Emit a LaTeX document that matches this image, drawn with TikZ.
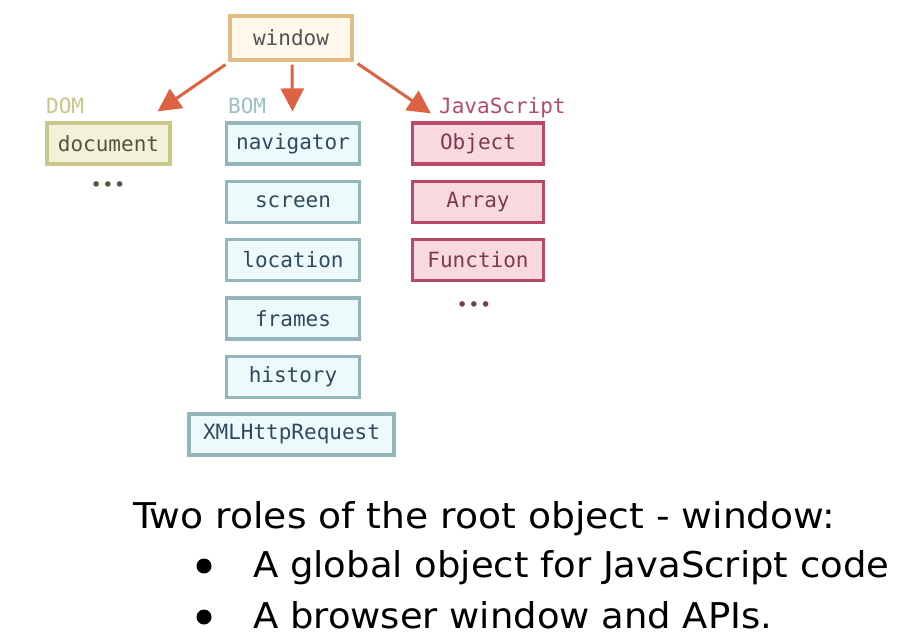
\documentclass[tikz,border=0pt]{standalone}
\usepackage{fontspec}
\usepackage{graphicx}
\usetikzlibrary{arrows.meta}
\setmainfont{DejaVu Sans}
\newfontfamily\monof{DejaVu Sans Mono}
\definecolor{winfill}{HTML}{FFF8EB}
\definecolor{windraw}{HTML}{E3BC85}
\definecolor{wintext}{HTML}{4F5358}
\definecolor{domfill}{HTML}{F3F1DA}
\definecolor{domdraw}{HTML}{CBC78A}
\definecolor{domlab}{HTML}{C9C58A}
\definecolor{domtext}{HTML}{55553F}
\definecolor{bomfill}{HTML}{EDFAFC}
\definecolor{bomdraw}{HTML}{94B6BA}
\definecolor{bomlab}{HTML}{9CC0C4}
\definecolor{bomtext}{HTML}{2E4A5C}
\definecolor{jsfill}{HTML}{F8D9DF}
\definecolor{jsdraw}{HTML}{B84A68}
\definecolor{jslab}{HTML}{B64A6B}
\definecolor{jstext}{HTML}{7B3A4F}
\definecolor{arrcol}{HTML}{DD6244}
\begin{document}
\begin{tikzpicture}[x=1pt,y=-1pt,
  box/.style={draw, line width=3.2pt, inner sep=0pt, minimum height=41pt,
    font=\monof\fontsize{21}{24}\selectfont},
  winbox/.style={box, fill=winfill, draw=windraw, text=wintext, minimum width=122pt, minimum height=44pt},
  dombox/.style={box, fill=domfill, draw=domdraw, text=domtext, minimum width=123pt},
  bombox/.style={box, fill=bomfill, draw=bomdraw, text=bomtext, minimum width=133pt},
  jsbox/.style={box, fill=jsfill, draw=jsdraw, text=jstext, minimum width=131pt},
  grplab/.style={inner sep=0pt, anchor=base west, font=\monof\fontsize{21}{24}\selectfont},
  arr/.style={draw=arrcol, line width=3pt, -{Triangle[length=23pt,width=23pt]}},
  dots/.style={inner sep=0pt, font=\fontsize{19}{24}\selectfont},
  txt/.style={inner sep=0pt, anchor=base west, font=\fontsize{35.5}{40}\selectfont},
  bullet/.style={circle, fill=black, inner sep=0pt, minimum size=15pt}
]
\useasboundingbox (0,0) rectangle (907,643);
\fill[white] (0,0) rectangle (907,643);

\node[winbox] (window) at (291,38) {window};

\node[grplab, text=domlab] (domlab) at (46,113) {DOM};
\node[grplab, text=bomlab] (bomlab) at (228,113) {BOM};
\node[grplab, text=jslab] (jslab) at (439,113) {JavaScript};

\node[dombox] (document) at (108.5,143.5) {document};
\node[text=domtext, dots] (domdots) at (108,187) {\textbullet\kern0.5pt\textbullet\kern0.5pt\textbullet};

\node[bombox] (navigator) at (293,143.5) {navigator};
\node[bombox] (screen) at (293,202) {screen};
\node[bombox] (location) at (293,260) {location};
\node[bombox] (frames) at (293,318.5) {frames};
\node[bombox] (history) at (293,377) {history};
\node[bombox, minimum width=205pt] (xhr) at (291.5,434.5) {XMLHttpRequest};

\node[jsbox] (object) at (478,143.5) {Object};
\node[jsbox] (array) at (478,202) {Array};
\node[jsbox] (function) at (478,260) {Function};
\node[text=jstext, dots] (jsdots) at (474,307) {\textbullet\kern0.5pt\textbullet\kern0.5pt\textbullet};

\draw[arr] ([shift={(-3,3)}]window.south west) -- ([shift={(-14,-10)}]document.north east);
\draw[arr] ([shift={(1,3)}]window.south) -- ([shift={(-0.5,-10)}]navigator.north);
\draw[arr] ([shift={(4,2)}]window.south east) -- ([shift={(20,-8)}]object.north west);

\node[txt] (title) at (133,528) {\resizebox{702pt}{\height}{Two roles of the root object - window:}};
\node[bullet] (b1) at (204,566) {};
\node[txt] (l1) at (253,577.5) {\resizebox{636pt}{\height}{A global object for JavaScript code}};
\node[bullet] (b2) at (204,617) {};
\node[txt] (l2) at (253,628.5) {\resizebox{519pt}{\height}{A browser window and APIs.}};
\end{tikzpicture}
\end{document}
